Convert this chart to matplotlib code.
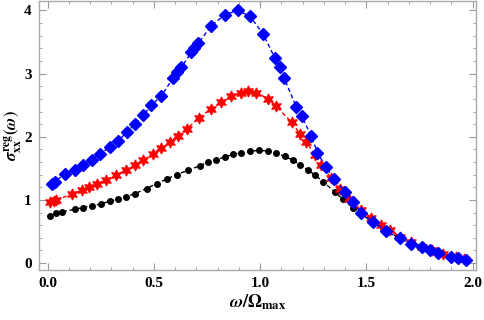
import numpy as np
import matplotlib
matplotlib.use("Agg")
import matplotlib.pyplot as plt
from matplotlib.ticker import MultipleLocator

# black dots
x_black = [0.011, 0.042, 0.066, 0.128, 0.168, 0.207, 0.254, 0.293, 0.332, 0.371,
           0.411, 0.466, 0.513, 0.56, 0.607, 0.661, 0.716, 0.755, 0.795, 0.834,
           0.873, 0.912, 0.952, 0.995, 1.038, 1.077, 1.116, 1.155, 1.19, 1.226,
           1.257, 1.296, 1.351, 1.39, 1.437, 1.48, 1.53, 1.59, 1.65, 1.71,
           1.76, 1.80, 1.85, 1.90, 1.95]
y_black = [0.742, 0.795, 0.81, 0.853, 0.88, 0.905, 0.94, 0.98, 1.01, 1.05,
           1.10, 1.18, 1.26, 1.33, 1.40, 1.47, 1.54, 1.60, 1.64, 1.68,
           1.72, 1.75, 1.77, 1.785, 1.775, 1.74, 1.69, 1.63, 1.55, 1.47,
           1.40, 1.29, 1.13, 1.01, 0.88, 0.77, 0.65, 0.52, 0.41, 0.32,
           0.26, 0.21, 0.16, 0.11, 0.065]

# red stars
x_red = [0.011, 0.03, 0.042, 0.113, 0.16, 0.196, 0.233, 0.274, 0.321, 0.368,
         0.411, 0.45, 0.497, 0.536, 0.575, 0.614, 0.654, 0.713, 0.768, 0.818,
         0.865, 0.912, 0.944, 0.983, 1.038, 1.077, 1.148, 1.187, 1.218, 1.257,
         1.289, 1.336, 1.375, 1.42, 1.477, 1.524, 1.57, 1.61, 1.66, 1.71,
         1.76, 1.81, 1.86, 1.92, 1.96]
y_red = [0.96, 0.98, 1.0, 1.09, 1.15, 1.20, 1.26, 1.31, 1.39, 1.47,
         1.55, 1.63, 1.73, 1.82, 1.91, 2.02, 2.12, 2.30, 2.44, 2.55,
         2.64, 2.70, 2.72, 2.70, 2.60, 2.48, 2.23, 2.05, 1.92, 1.71,
         1.55, 1.34, 1.18, 1.01, 0.84, 0.72, 0.61, 0.52, 0.42, 0.33,
         0.26, 0.20, 0.15, 0.09, 0.06]

# blue diamonds
x_blue = [0.019, 0.034, 0.081, 0.128, 0.168, 0.21, 0.249, 0.293, 0.332, 0.374,
          0.41, 0.45, 0.489, 0.536, 0.591, 0.61, 0.63, 0.677, 0.69, 0.709,
          0.771, 0.834, 0.894, 0.952, 1.014, 1.069, 1.093, 1.113, 1.171, 1.195,
          1.24, 1.27, 1.31, 1.35, 1.40, 1.437, 1.477, 1.53, 1.594, 1.657,
          1.712, 1.76, 1.80, 1.837, 1.90, 1.93, 1.97]
y_blue = [1.26, 1.29, 1.41, 1.48, 1.56, 1.64, 1.73, 1.84, 1.94, 2.07,
          2.20, 2.34, 2.50, 2.65, 2.93, 3.02, 3.10, 3.34, 3.40, 3.48,
          3.76, 3.93, 4.0, 3.91, 3.63, 3.25, 3.10, 2.93, 2.47, 2.33,
          2.02, 1.75, 1.52, 1.33, 1.13, 0.97, 0.79, 0.65, 0.51, 0.39,
          0.31, 0.25, 0.205, 0.16, 0.10, 0.075, 0.047]

plt.rcParams['font.family'] = ['Liberation Serif', 'DejaVu Serif']
plt.rcParams['font.weight'] = 'bold'
plt.rcParams['mathtext.fontset'] = 'stix'

fig = plt.figure(figsize=(4.85, 3.2), dpi=100)
ax = fig.add_axes([0.080, 0.156, 0.901, 0.842])

dash = (0, (3, 2))
ax.plot(x_black, y_black, color='black', ls=dash, lw=1.0,
        marker='o', ms=4.0, mec='black', mfc='black')
ax.plot(x_red, y_red, color='red', ls=dash, lw=1.0,
        marker=(6, 1, 0), ms=8, mec='red', mfc='red', mew=0.8)
ax.plot(x_blue, y_blue, color='blue', ls=dash, lw=1.0,
        marker='D', ms=6.5, mec='blue', mfc='blue')

ax.set_xlim(-0.041, 2.015)
ax.set_ylim(-0.11, 4.155)

ax.xaxis.set_major_locator(MultipleLocator(0.5))
ax.xaxis.set_minor_locator(MultipleLocator(0.1))
ax.yaxis.set_major_locator(MultipleLocator(1))
ax.yaxis.set_minor_locator(MultipleLocator(0.2))
ax.xaxis.set_major_formatter(plt.FuncFormatter(lambda v, p: f"{v:.1f}"))
ax.yaxis.set_major_formatter(plt.FuncFormatter(lambda v, p: f"{v:.0f}"))

ax.tick_params(which='both', direction='in', top=True, right=True,
               color='#999999', labelsize=11, pad=5)
ax.tick_params(which='major', length=5, width=0.8)
ax.tick_params(which='minor', length=2.5, width=0.6)
for lab in ax.get_xticklabels() + ax.get_yticklabels():
    lab.set_fontweight('bold')
for s in ax.spines.values():
    s.set_color('#aaaaaa')
    s.set_linewidth(1.0)

ax.set_xlabel(r'$\omega/\Omega_{\mathbf{max}}$', fontsize=13, labelpad=2)
ax.set_ylabel(r'$\sigma^{\mathbf{reg}}_{\mathbf{xx}}(\omega)$', fontsize=12, labelpad=0)

fig.savefig('out.png', dpi=100)
